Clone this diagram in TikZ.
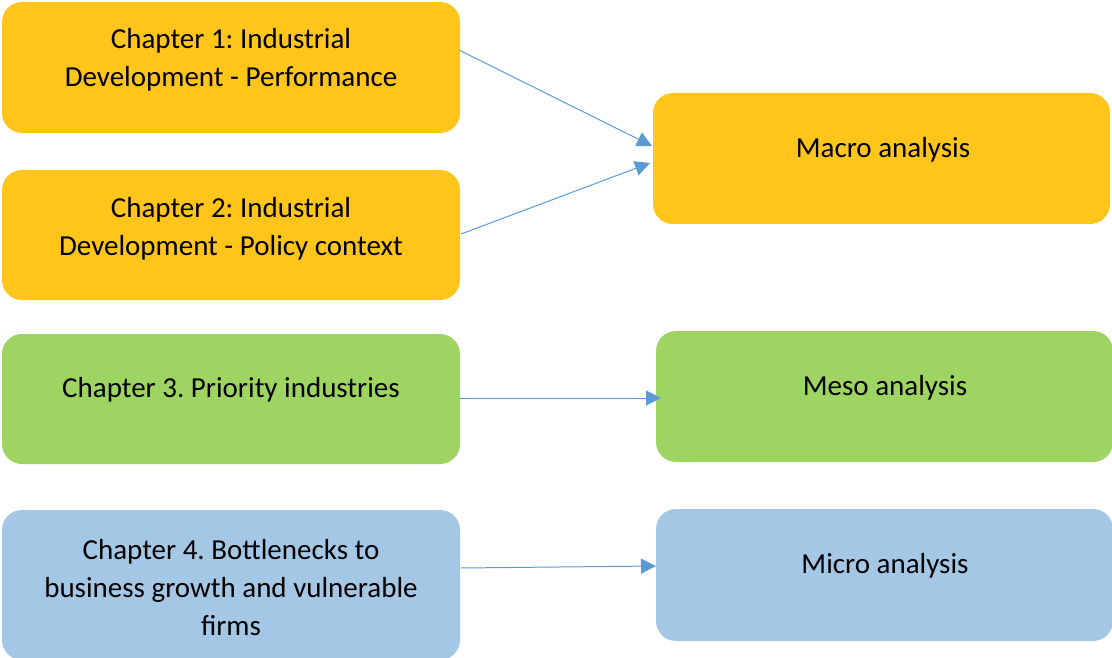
\documentclass[tikz,border=0pt]{standalone}
\usepackage{fontspec}
\setmainfont{Carlito}
\frenchspacing
\usetikzlibrary{arrows.meta}
\definecolor{corange}{RGB}{255,197,27}
\definecolor{cgreen}{RGB}{158,213,98}
\definecolor{cblue}{RGB}{165,199,230}
\definecolor{carrow}{RGB}{91,155,213}
\tikzset{
  box/.style={rounded corners=20pt, draw=none, inner sep=0pt},
  txt/.style={align=center, font=\fontsize{29}{38}\selectfont, text=black, inner sep=0pt},
  conn/.style={draw=carrow, line width=1pt, -{Triangle[length=15pt,width=15pt]}}
}
\begin{document}
\begin{tikzpicture}[x=1pt,y=-1pt]
\useasboundingbox (0,0) rectangle (1112,658);
% boxes
\node[box, fill=corange, minimum width=458pt, minimum height=131pt] (c1) at (231,67.5) {};
\node[box, fill=corange, minimum width=458pt, minimum height=130pt] (c2) at (231,235) {};
\node[box, fill=corange, minimum width=457pt, minimum height=131pt] (mac) at (881.5,158.5) {};
\node[box, fill=cgreen, minimum width=458pt, minimum height=130pt] (c3) at (231,399) {};
\node[box, fill=cgreen, minimum width=457pt, minimum height=131pt] (mes) at (884.5,396.5) {};
\node[box, fill=cblue, minimum width=458pt, minimum height=150pt] (c4) at (231,585) {};
\node[box, fill=cblue, minimum width=457pt, minimum height=132pt] (mic) at (884.5,575) {};
% texts
\node[txt] (t1) at (231,60) {Chapter 1: Industrial\\Development - Performance};
\node[txt] (t2) at (231,229) {Chapter 2: Industrial\\Development - Policy context};
\node[txt] (tm) at (883,150) {Macro analysis};
\node[txt] (t3) at (231,390) {Chapter 3. Priority industries};
\node[txt] (ts) at (885,388) {Meso analysis};
\node[txt] (t4) at (231,588) {Chapter 4. Bottlenecks to\\business growth and vulnerable\\firms};
\node[txt] (ti) at (885,566) {Micro analysis};
% connector endpoints
\coordinate (a1s) at (459,50);
\coordinate (a1e) at (652,146);
\coordinate (a2s) at (461,234);
\coordinate (a2e) at (650,163);
\coordinate (a3s) at (460,398);
\coordinate (a3e) at (661,398);
\coordinate (a4s) at (461,568);
\coordinate (a4e) at (656,566);
\draw[conn] (a1s) -- (a1e);
\draw[conn] (a2s) -- (a2e);
\draw[conn] (a3s) -- (a3e);
\draw[conn] (a4s) -- (a4e);
\end{tikzpicture}
\end{document}
